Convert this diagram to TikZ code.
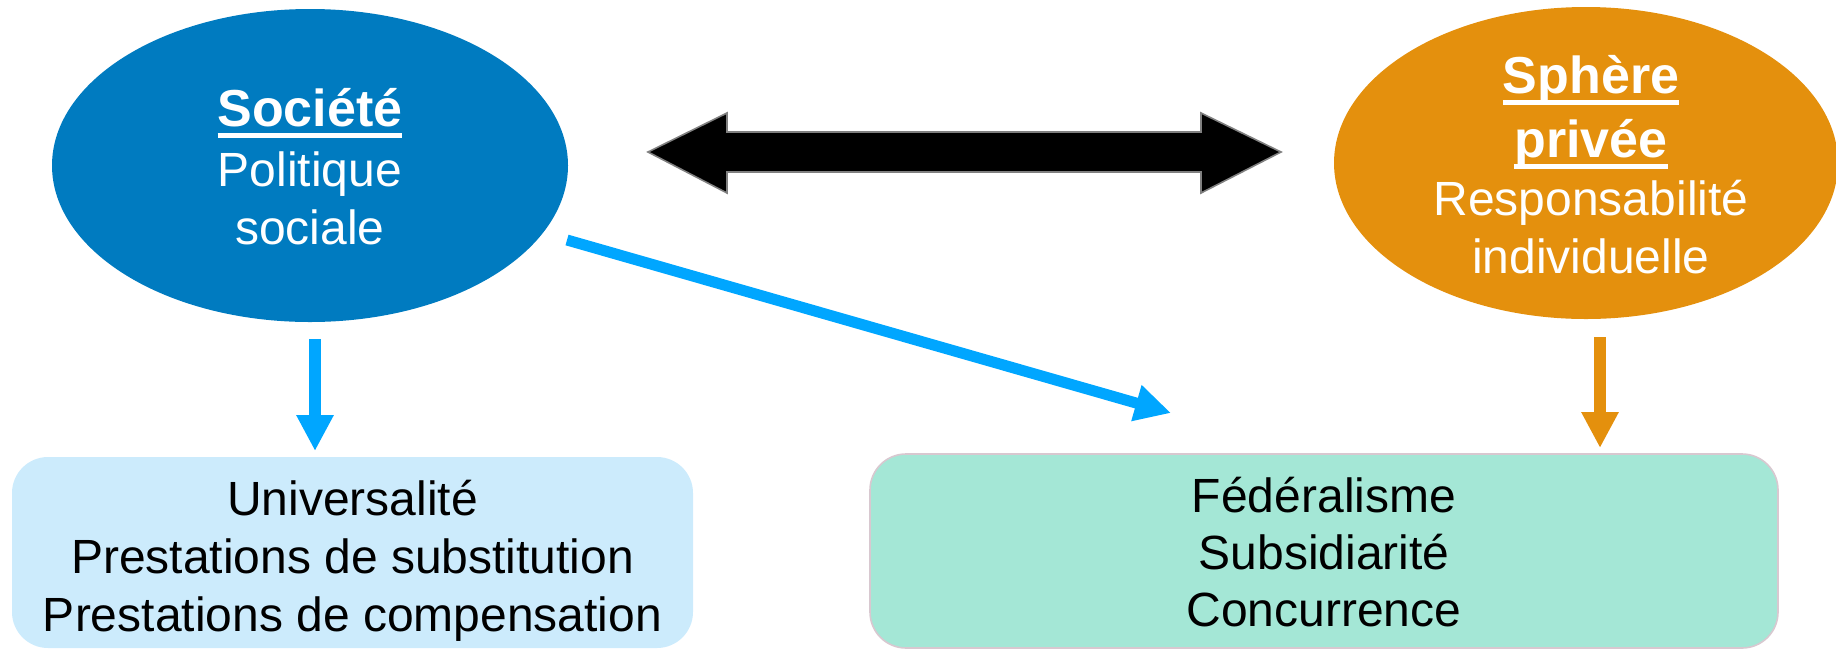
\documentclass[tikz,border=0pt]{standalone}
\usepackage{fontspec}
\setmainfont{Liberation Sans}
\usetikzlibrary{shapes.geometric,arrows.meta}
\definecolor{socblue}{RGB}{0,123,192}
\definecolor{arrblue}{RGB}{0,166,255}
\definecolor{privorange}{RGB}{228,144,13}
\definecolor{boxblue}{RGB}{204,235,252}
\definecolor{boxmint}{RGB}{164,231,214}
\definecolor{boxborder}{RGB}{216,200,208}
\newcommand{\myul}[1]{\leavevmode\setbox0\hbox{#1}\rlap{\rule[-6pt]{\wd0}{2.5pt}}\box0}
\tikzset{
  bubble/.style={ellipse, inner sep=0pt, outer sep=0pt},
  roundbox/.style={rectangle, rounded corners=18pt, inner sep=0pt, outer sep=0pt},
  wtxt/.style={anchor=base, inner sep=0pt, text=white, font=\fontsize{24}{29}\selectfont},
  wtitle/.style={anchor=base, inner sep=0pt, text=white, font=\fontsize{26}{31}\selectfont\bfseries},
  btxt/.style={anchor=base, inner sep=0pt, text=black, font=\fontsize{24}{29}\selectfont},
  flowarrow/.style={line width=6pt, -{Triangle[length=18pt,width=17.5pt]}},
}
\begin{document}
\begin{tikzpicture}[x=0.5pt,y=-0.5pt]
\useasboundingbox (0,0) rectangle (1836,649);
% ellipses
\node[bubble, fill=socblue, minimum width=258pt, minimum height=156.5pt] (soc) at (310,165.5) {};
\node[bubble, fill=privorange, minimum width=252pt, minimum height=156pt] (priv) at (1586,163) {};
% boxes
\node[roundbox, fill=boxblue, minimum width=340.5pt, minimum height=95.5pt] (lbox) at (352.5,552.5) {};
\node[roundbox, fill=boxmint, draw=boxborder, line width=0.8pt, minimum width=454pt, minimum height=97pt] (rbox) at (1324,551) {};
% texts in left ellipse
\node[wtitle] (soc1) at (310,126) {\myul{Société}};
\node[wtxt] (soc2) at (310,186) {Politique};
\node[wtxt] (soc3) at (310,244) {sociale};
% texts in right ellipse
\node[wtitle] (priv1) at (1591,93) {\myul{Sphère}};
\node[wtitle] (priv2) at (1591,157) {\myul{privée}};
\node[wtxt] (priv3) at (1591,215) {Responsabilité};
\node[wtxt] (priv4) at (1591,273) {individuelle};
% texts in left box
\node[btxt] (l1) at (352.5,515) {Universalité};
\node[btxt] (l2) at (352.5,573) {Prestations de substitution};
\node[btxt] (l3) at (352.5,631) {Prestations de compensation};
% texts in right box
\node[btxt] (r1) at (1324,512) {Fédéralisme};
\node[btxt] (r2) at (1324,569) {Subsidiarité};
\node[btxt] (r3) at (1324,626) {Concurrence};
% double block arrow
\draw[fill=black, draw=black!50, line width=0.8pt, line join=miter]
  (648,152) -- (727,113) -- (727,132) -- (1201,132) -- (1201,113) -- (1281,152)
  -- (1201,193) -- (1201,172) -- (727,172) -- (727,193) -- cycle;
% connectors
\coordinate (dls) at (315,339);
\coordinate (dle) at (315,451);
\coordinate (dgs) at (567,240);
\coordinate (dge) at (1171,413);
\coordinate (drs) at (1600,337);
\coordinate (dre) at (1600,448);
\draw[flowarrow, draw=arrblue, fill=arrblue] (dls) -- (dle);
\draw[flowarrow, line width=5.5pt, draw=arrblue, fill=arrblue] (dgs) -- (dge);
\draw[flowarrow, draw=privorange, fill=privorange] (drs) -- (dre);
\end{tikzpicture}
\end{document}
